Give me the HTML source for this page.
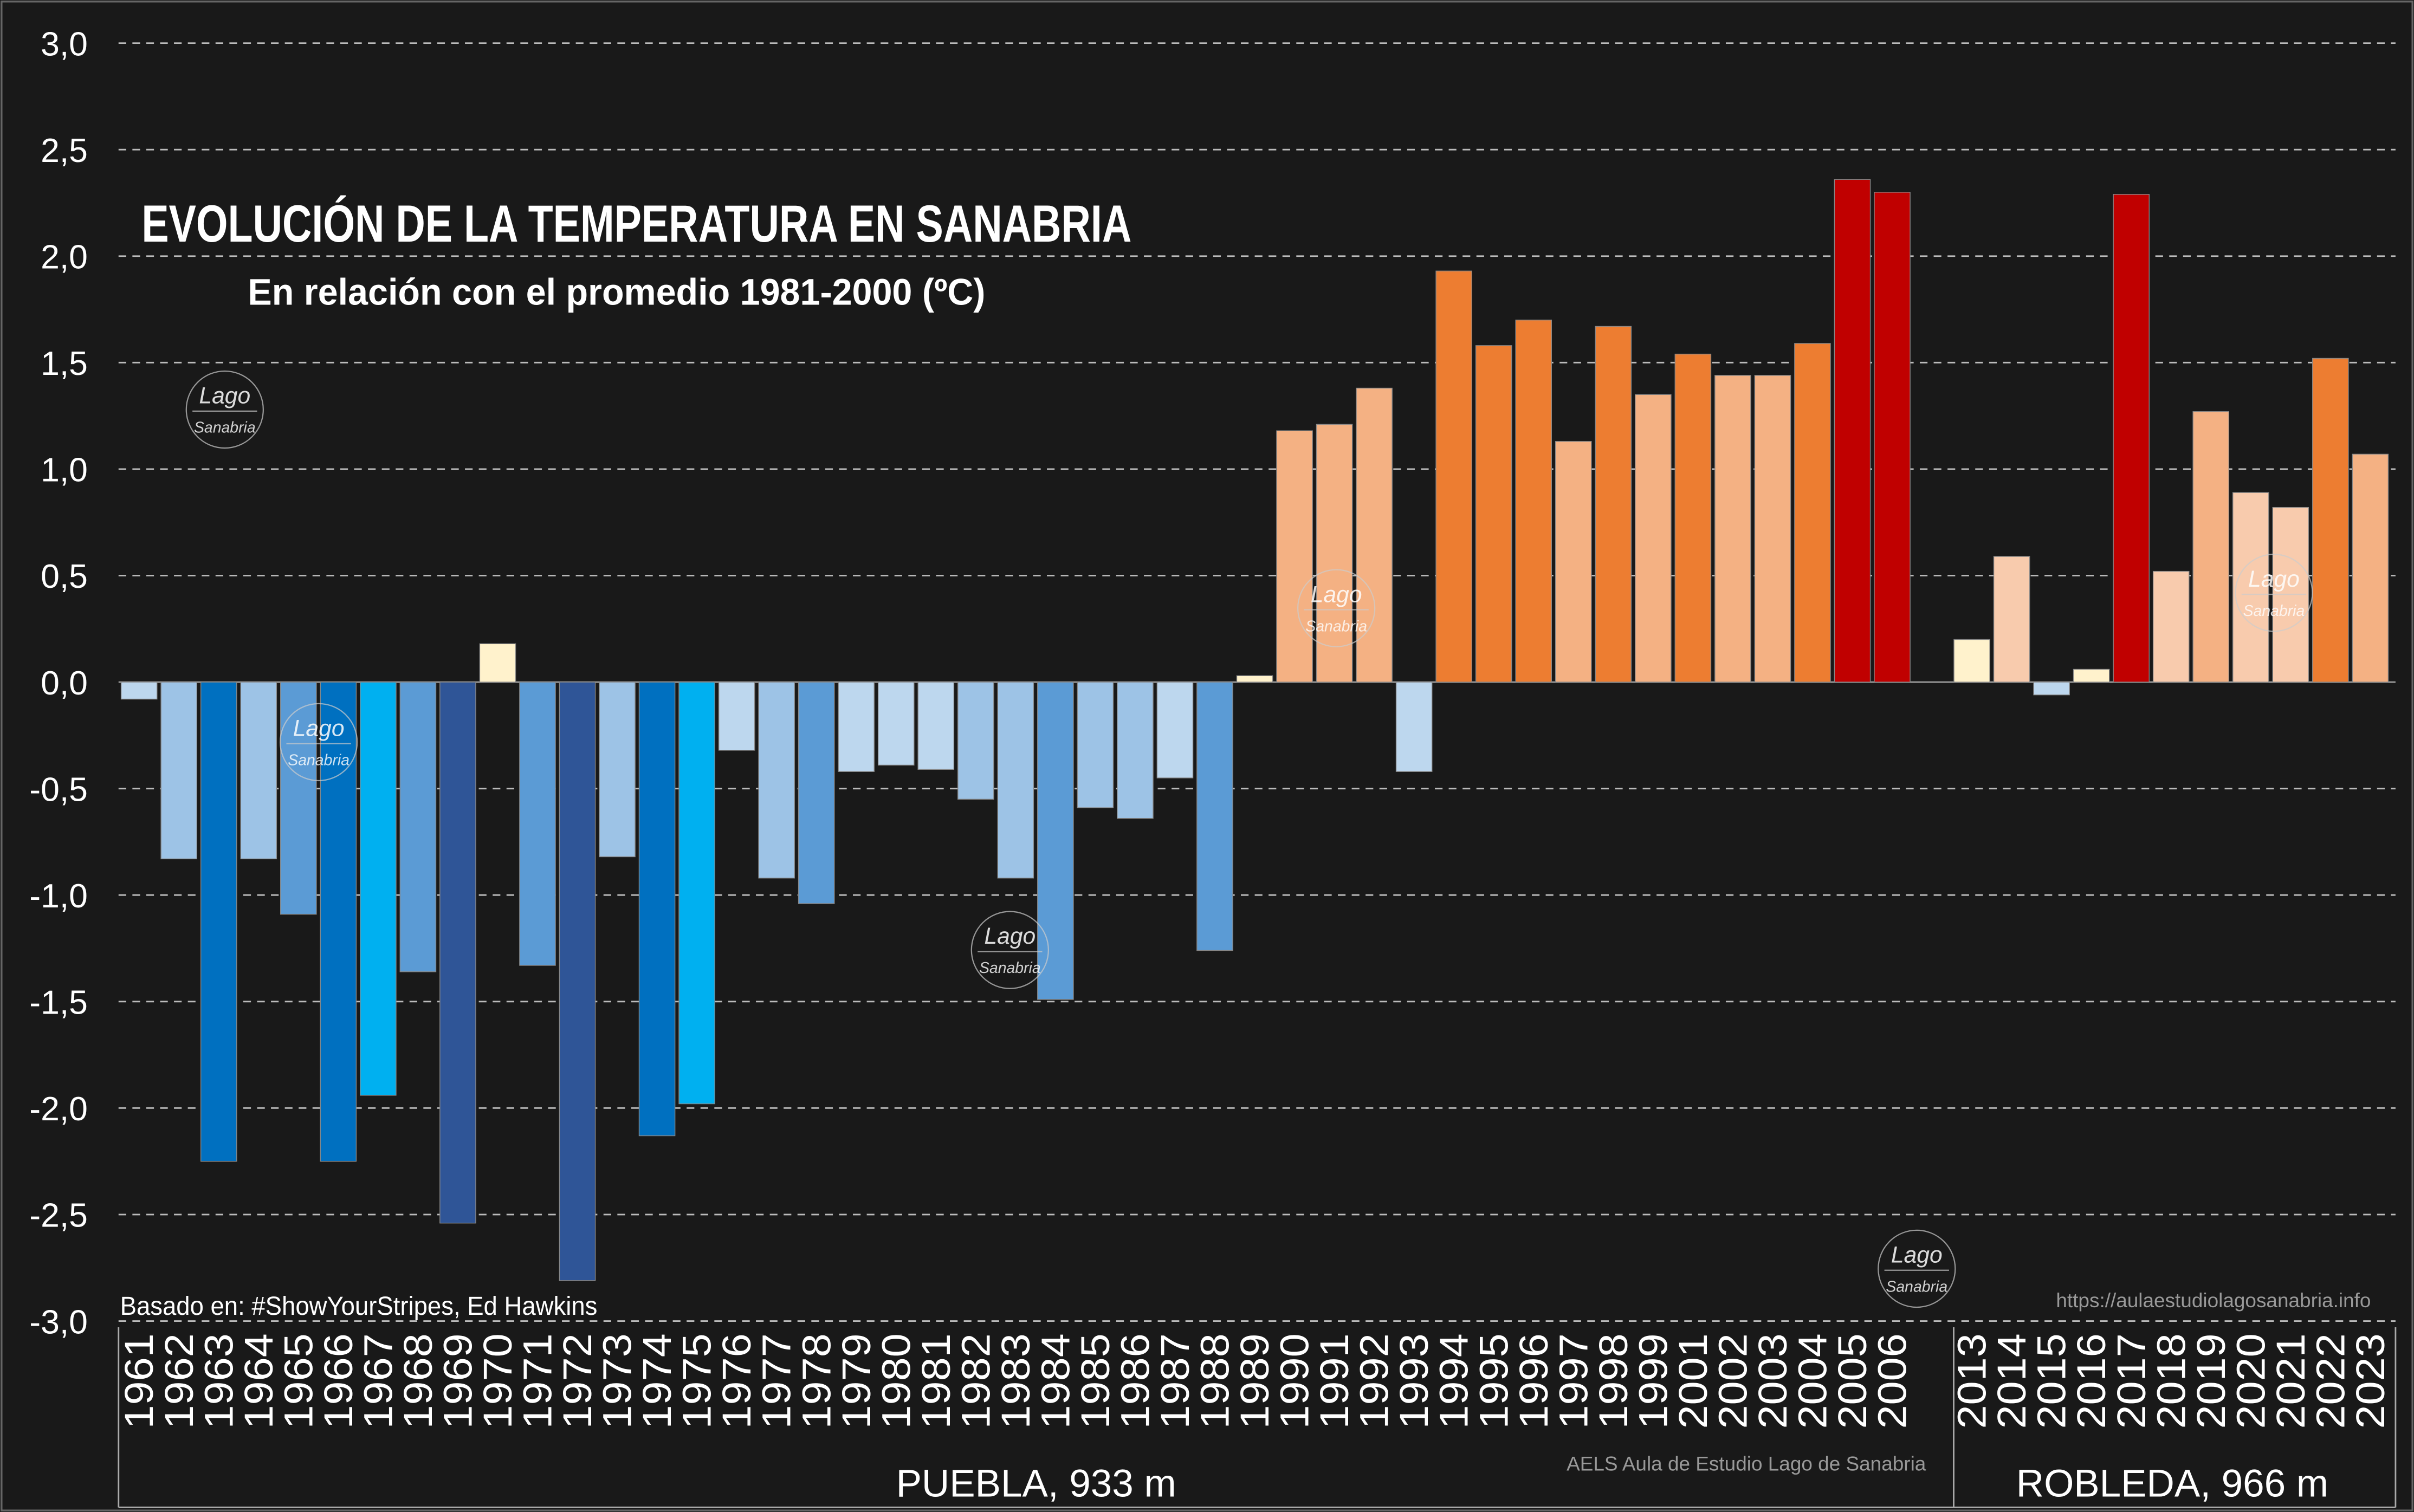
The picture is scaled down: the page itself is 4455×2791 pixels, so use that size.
<!DOCTYPE html>
<html><head><meta charset="utf-8"><style>
html,body{margin:0;padding:0;background:#191919;}
svg{display:block;}
text{font-family:"Liberation Sans Narrow","Liberation Sans",sans-serif;fill:#fff;}
</style></head><body>
<svg width="4455" height="2791" viewBox="0 0 1568 982" preserveAspectRatio="none" xmlns="http://www.w3.org/2000/svg">
<rect x="0" y="0" width="1568" height="982" fill="#191919"/>
<rect x="1" y="1" width="1566" height="980" fill="none" stroke="#666" stroke-width="1.2"/>
<g id="grid" stroke="#bbb" stroke-width="1" stroke-dasharray="5,4"></g>
<g id="ylab"></g>
<g id="bars"></g>
<g id="xl"></g>
<g stroke="#aaa" stroke-width="1" fill="none">
<line x1="77" y1="862" x2="77" y2="979"/>
<line x1="1269" y1="862" x2="1269" y2="979"/>
<line x1="1556" y1="862" x2="1556" y2="979"/>
<line x1="77" y1="979" x2="1556" y2="979"/>
</g>
<text x="92" y="157" font-size="34" font-weight="bold" textLength="643" lengthAdjust="spacingAndGlyphs">EVOLUCIÓN DE LA TEMPERATURA EN SANABRIA</text>
<text x="161" y="198" font-size="24" font-weight="bold" textLength="479" lengthAdjust="spacingAndGlyphs">En relación con el promedio 1981-2000 (ºC)</text>
<text x="78" y="854" font-size="17" textLength="310" lengthAdjust="spacingAndGlyphs">Basado en: #ShowYourStripes,  Ed Hawkins</text>
<text x="1540" y="849" font-size="13" text-anchor="end" style="fill:#999">https://aulaestudiolagosanabria.info</text>
<text x="1251" y="955" font-size="13" text-anchor="end" style="fill:#999">AELS Aula de Estudio Lago de Sanabria</text>
<text x="673" y="972" font-size="25" text-anchor="middle" font-family="Liberation Sans">PUEBLA, 933 m</text>
<text x="1411" y="972" font-size="25" text-anchor="middle" font-family="Liberation Sans">ROBLEDA, 966 m</text>
<g id="logos"></g>
</svg>
<script>
const NS="http://www.w3.org/2000/svg";
function el(p,t,a,txt){const e=document.createElementNS(NS,t);for(const k in a)e.setAttribute(k,a[k]);if(txt!=null)e.textContent=txt;document.getElementById(p).appendChild(e);return e;}
const y0=443,k=138.33;
for(let v=-3;v<=3.001;v+=0.5){const y=y0-v*k;
 if(Math.abs(v)>1e-9) el("grid","line",{x1:77,y1:y,x2:1556,y2:y});
 el("ylab","text",{x:57,y:y+8,"font-size":22,"text-anchor":"end"},(v<0?"-":"")+Math.abs(v).toFixed(1).replace(".",","));}
el("grid","line",{x1:77,y1:y0,x2:1556,y2:y0,"stroke-dasharray":"none",stroke:"#999"});
const DB="#2f5597",B="#0070c0",C="#00b0f0",M="#5b9bd5",L="#9dc3e6",LL="#bdd7ee",Y="#fff2cc",P="#f8cbad",O="#f4b183",OR="#ed7d31",R="#c00000";
const d=[[1961,-0.08,LL],[1962,-0.83,L],[1963,-2.25,B],[1964,-0.83,L],[1965,-1.09,M],[1966,-2.25,B],[1967,-1.94,C],[1968,-1.36,M],[1969,-2.54,DB],[1970,0.18,Y],[1971,-1.33,M],[1972,-2.81,DB],[1973,-0.82,L],[1974,-2.13,B],[1975,-1.98,C],[1976,-0.32,LL],[1977,-0.92,L],[1978,-1.04,M],[1979,-0.42,LL],[1980,-0.39,LL],[1981,-0.41,LL],[1982,-0.55,L],[1983,-0.92,L],[1984,-1.49,M],[1985,-0.59,L],[1986,-0.64,L],[1987,-0.45,LL],[1988,-1.26,M],[1989,0.03,Y],[1990,1.18,O],[1991,1.21,O],[1992,1.38,O],[1993,-0.42,LL],[1994,1.93,OR],[1995,1.58,OR],[1996,1.70,OR],[1997,1.13,O],[1998,1.67,OR],[1999,1.35,O],[2001,1.54,OR],[2002,1.44,O],[2003,1.44,O],[2004,1.59,OR],[2005,2.36,R],[2006,2.30,R],
[2013,0.20,Y],[2014,0.59,P],[2015,-0.06,LL],[2016,0.06,Y],[2017,2.29,R],[2018,0.52,P],[2019,1.27,O],[2020,0.89,P],[2021,0.82,P],[2022,1.52,OR],[2023,1.07,O]];
const sw=25.88;
d.forEach((r,i)=>{const idx=i<45?i:i+1;const x=77.5+idx*sw+1.2;const w=sw-2.6;
 const h=Math.abs(r[1])*k;const y=r[1]>=0?y0-h:y0;
 el("bars","rect",{x:x,y:y,width:w,height:h,fill:r[2],stroke:"#888","stroke-width":0.5});
 const cx=x+w/2+9;
 el("xl","text",{x:0,y:0,"font-size":26,"font-family":"Liberation Sans","text-anchor":"end",textLength:62,lengthAdjust:"spacingAndGlyphs",transform:`translate(${cx},866) rotate(-90)`},r[0]);});
[[146,266],[207,482],[868,395],[656,617],[1477,385],[1245,824]].forEach(p=>{
 el("logos","circle",{cx:p[0],cy:p[1],r:25,fill:"none",stroke:"#ccc","stroke-width":0.8,opacity:0.7});
 el("logos","text",{x:p[0],y:p[1]-4,"font-size":15,"font-style":"italic","text-anchor":"middle",opacity:0.85},"Lago");
 el("logos","line",{x1:p[0]-21,y1:p[1]+1,x2:p[0]+21,y2:p[1]+1,stroke:"#ccc","stroke-width":0.8,opacity:0.7});
 el("logos","text",{x:p[0],y:p[1]+15,"font-size":10,"font-style":"italic","text-anchor":"middle",opacity:0.8},"Sanabria");});
</script>
</body></html>
